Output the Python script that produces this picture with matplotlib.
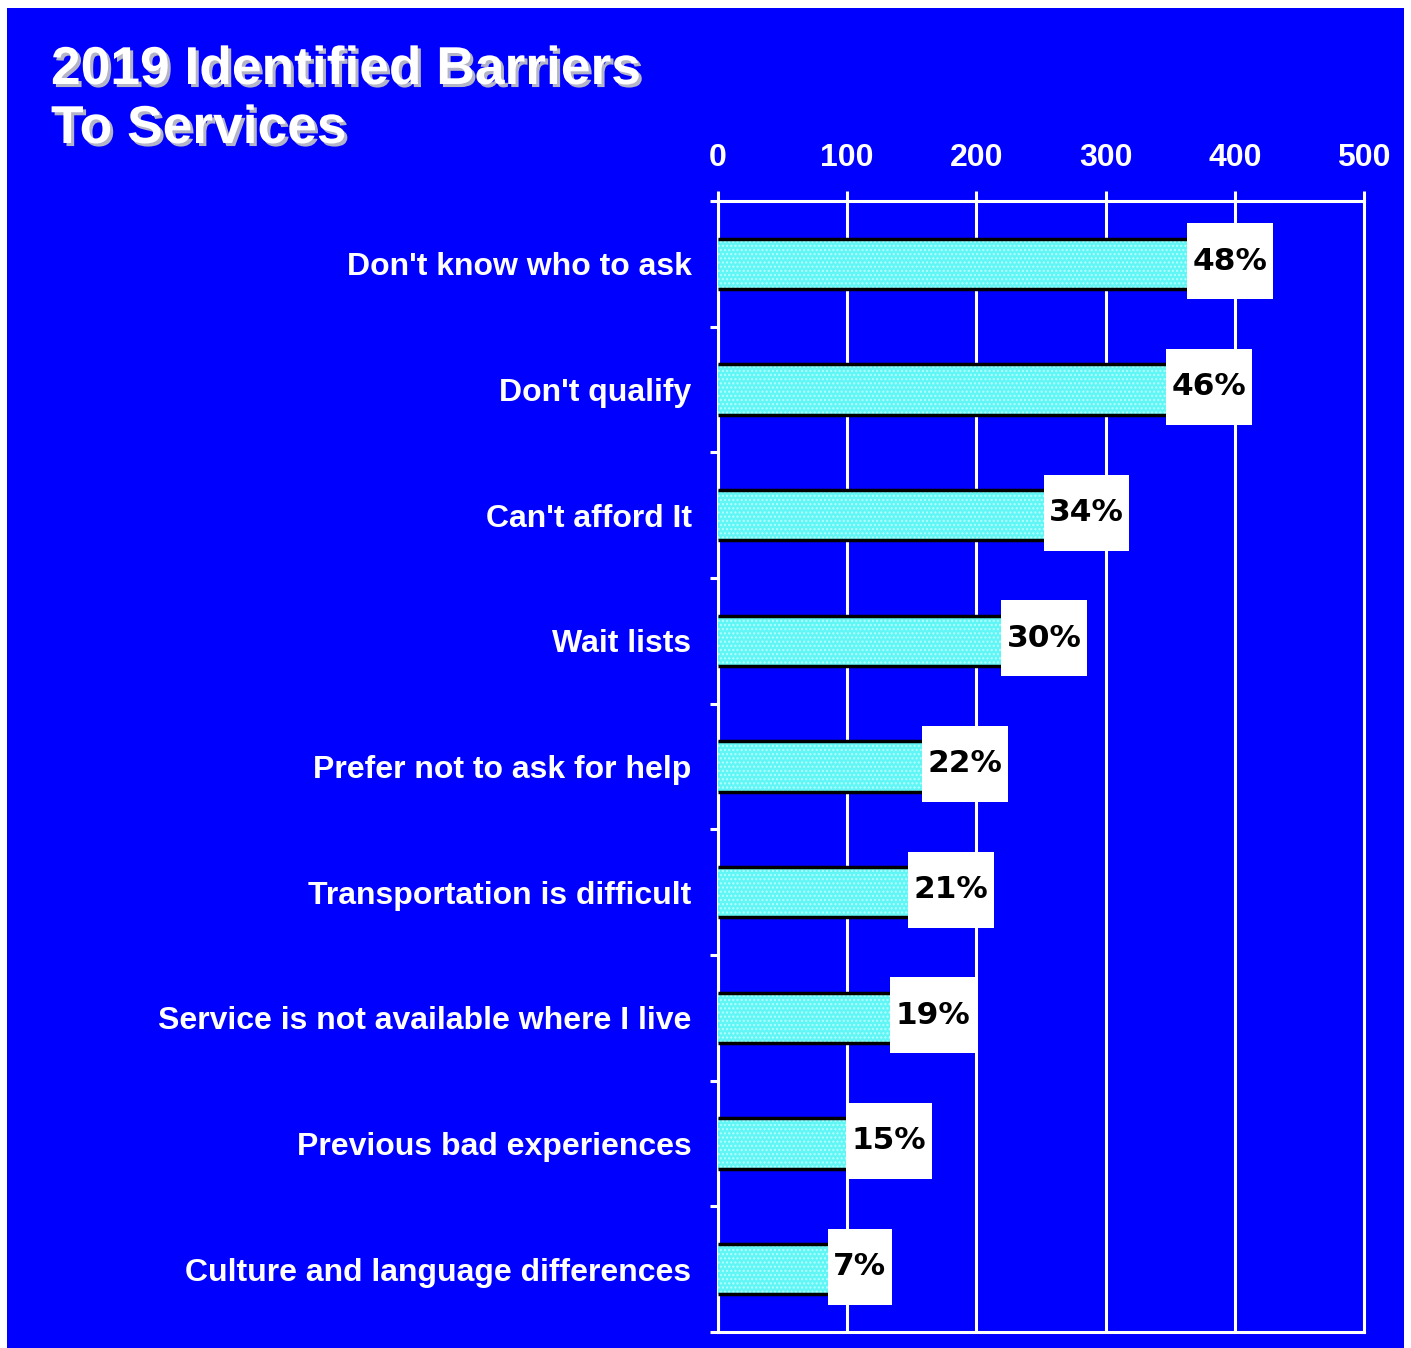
import matplotlib
matplotlib.use('Agg')
import matplotlib.pyplot as plt
import matplotlib.patheffects as pe
from matplotlib.patches import Rectangle
import numpy as np

plt.rcParams['font.family'] = ['Liberation Sans', 'DejaVu Sans']
plt.rcParams['hatch.linewidth'] = 1.0

# data
categories = ["Don't know who to ask", "Don't qualify", "Can't afford It", "Wait lists",
              "Prefer not to ask for help", "Transportation is difficult",
              "Service is not available where I live", "Previous bad experiences",
              "Culture and language differences"]
counts = [363, 347, 252, 219, 158, 147, 133, 99, 85]
pct_labels = ['48%', '46%', '34%', '30%', '22%', '21%', '19%', '15%', '7%']
xticks = [0, 100, 200, 300, 400, 500]

W, H = 1411, 1348
blue = '#0000FF'
bar_color = '#60F6F6'

fig = plt.figure(figsize=(W / 100, H / 100), dpi=100)
fig.patch.set_facecolor('white')
fig.add_artist(Rectangle((7 / W, 0), (1404 - 7) / W, (H - 8) / H,
                         transform=fig.transFigure, facecolor=blue,
                         edgecolor='none', zorder=-10))

ax = fig.add_axes([718 / W, 1 - 1332 / H, (1364 - 718) / W, (1332 - 201) / H])
ax.patch.set_alpha(0)

y = np.arange(len(categories))
ax.barh(y, counts, height=0.4, color=bar_color, hatch='....',
        edgecolor='#B8FFFF', linewidth=0, zorder=3)
ax.hlines(y - 0.2, 0, counts, color='black', lw=2.5, zorder=4)
ax.hlines(y + 0.2, 0, counts, color='black', lw=2.5, zorder=4)

ax.set_xlim(0, 500)
ax.set_ylim(len(categories) - 0.5, -0.5)

# grid + spines
ax.xaxis.grid(True, color='white', lw=2.2, zorder=1)
ax.set_axisbelow(True)
for s in ax.spines.values():
    s.set_color('white')
    s.set_linewidth(2.2)
    s.set_zorder(2)

ax.xaxis.tick_top()
ax.set_xticks(xticks)
ax.set_xticklabels([str(v) for v in xticks], fontweight='bold')
ax.tick_params(axis='x', which='major', length=7.2, width=2.2, color='white',
               labelcolor='white', labelsize=23, pad=13)

ax.set_yticks(y)
ax.set_yticklabels(categories, fontweight='bold')
ax.tick_params(axis='y', which='major', length=0, labelcolor='white',
               labelsize=23, pad=19)
ax.set_yticks(np.arange(-0.5, len(categories), 1), minor=True)
ax.tick_params(axis='y', which='minor', length=5.8, width=2.2, color='white')

# percentage boxes
fig.canvas.draw()
renderer = fig.canvas.get_renderer()
px_per_unit = ax.get_window_extent().width / 500
for i, (v, lbl) in enumerate(zip(counts, pct_labels)):
    t = ax.text(v, i - 0.02, lbl, fontsize=22.5, fontweight='bold', color='black',
                family=['DejaVu Sans'], ha='center', va='center', zorder=6)
    tw = t.get_window_extent(renderer).width
    bw = (tw + 11) / px_per_unit
    t.set_x(v + bw / 2)
    ax.add_patch(Rectangle((v, i - 0.02 - 0.3025), bw, 0.605, facecolor='white',
                           edgecolor='none', zorder=5))

# title
shadow = [pe.withSimplePatchShadow(offset=(2.2, -2.2), shadow_rgbFace='#B4B4C8', alpha=1)]
fig.text(51 / W, 1 - 84 / H, '2019 Identified Barriers', fontsize=38.4, fontweight='bold',
         color='white', va='baseline', path_effects=shadow)
fig.text(51 / W, 1 - 143 / H, 'To Services', fontsize=38.4, fontweight='bold',
         color='white', va='baseline', path_effects=shadow)

fig.savefig('out.png', dpi=100)
